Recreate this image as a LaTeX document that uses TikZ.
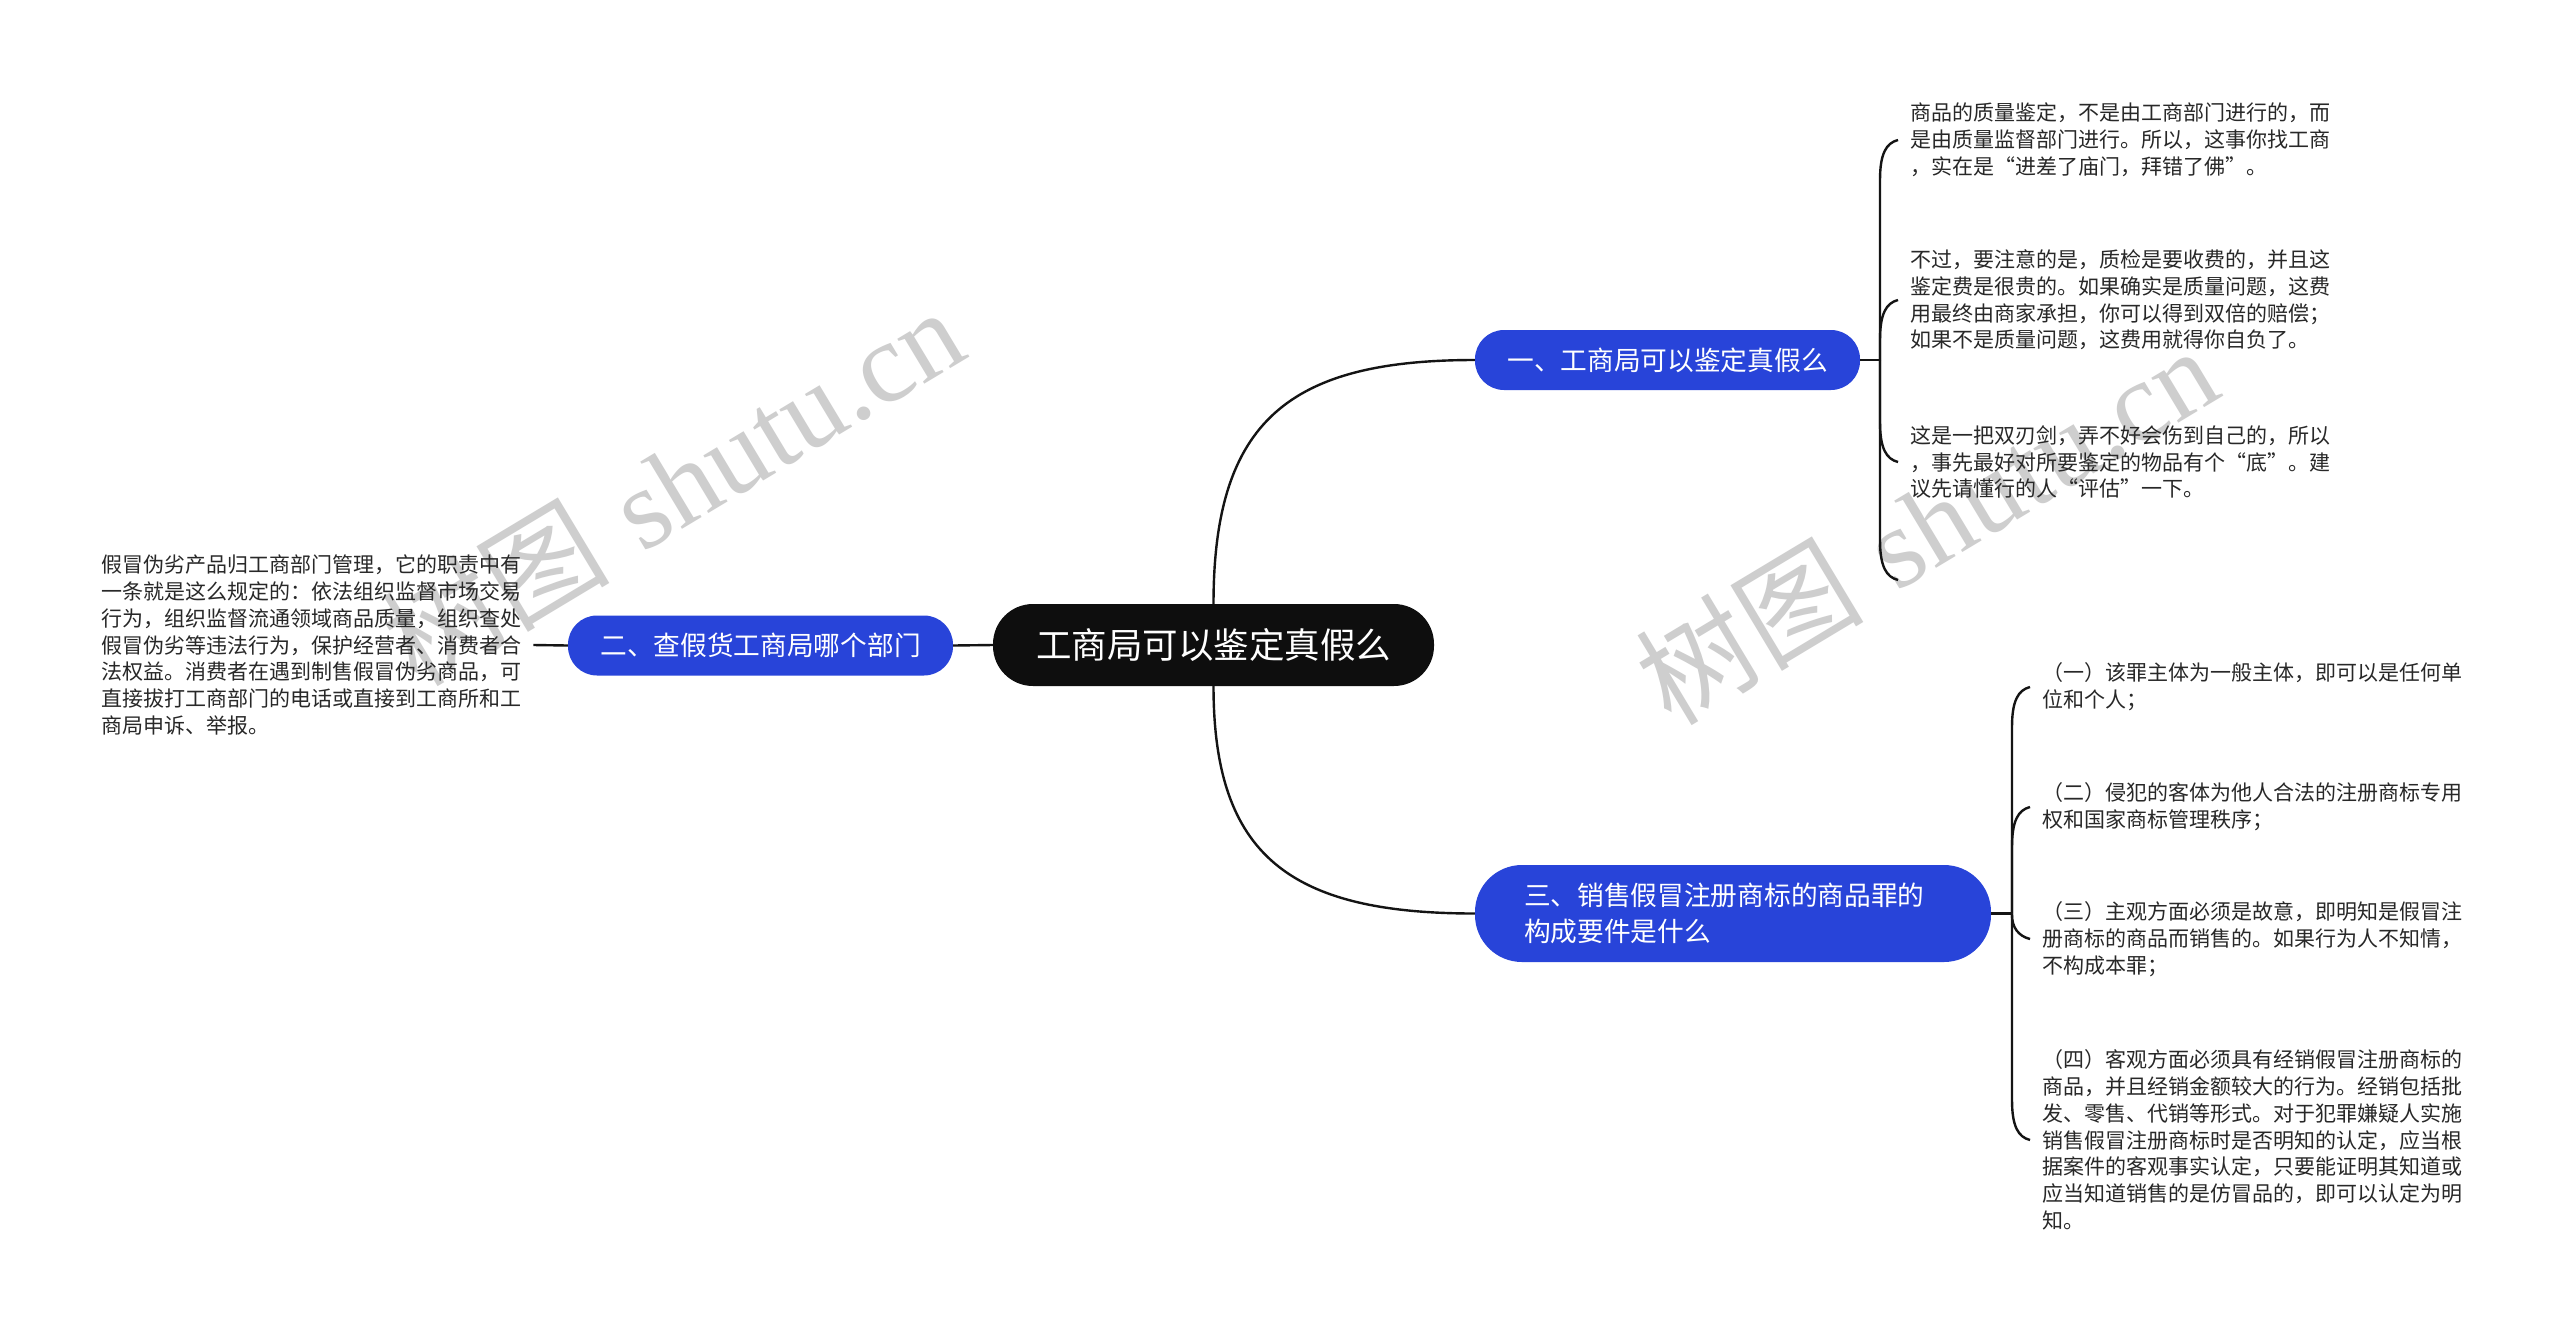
\documentclass[tikz,border=0pt]{standalone}
\usepackage{fontspec}
\newfontfamily\cjk{Noto Sans CJK SC}
\newfontfamily\wmlat{Liberation Serif}
\definecolor{brblue}{RGB}{40,68,217}
\definecolor{rootblack}{RGB}{14,14,14}
\definecolor{leaftext}{RGB}{40,40,40}
\definecolor{wmgray}{RGB}{206,206,206}
\definecolor{linecol}{RGB}{20,20,20}
\tikzset{
  rootnode/.style={fill=rootblack, text=white, rounded corners=40pt, minimum width=441pt, minimum height=82pt, inner sep=0pt, font=\cjk\fontsize{35.5}{40}\selectfont},
  branchnode/.style={fill=brblue, text=white, rounded corners=29pt, minimum width=385pt, minimum height=60pt, inner sep=0pt, font=\cjk\fontsize{26.7}{36}\selectfont},
  leafnode/.style={anchor=west, align=left, text=leaftext, inner xsep=12pt, inner ysep=0pt, font=\cjk\fontsize{21}{26.8}\selectfont},
  conn/.style={draw=linecol, line width=2.4pt},
  wmark/.style={text=wmgray, rotate=31, inner sep=0pt, font=\fontsize{114}{120}\selectfont}
}
\begin{document}
\begin{tikzpicture}[x=1pt,y=-1pt]
\useasboundingbox[fill=white] (0,0) rectangle (2560,1334);

% watermarks
\node[wmark] (wm1) at (672,485) {{\cjk 树图} {\wmlat shutu.cn}};
\node[wmark] (wm2) at (1926,524) {{\cjk 树图} {\wmlat shutu.cn}};

% root and branches
\node[rootnode] (root) at (1213.5,645) {工商局可以鉴定真假么};
\node[branchnode] (b1) at (1667.5,360) {一、工商局可以鉴定真假么};
\node[branchnode] (b2) at (760.5,645.5) {二、查假货工商局哪个部门};
\node[branchnode, minimum width=0pt, minimum height=97pt, rounded corners=47pt, text width=418pt, align=left, inner xsep=49pt] (b3) at (1733,913.5) {三、销售假冒注册商标的商品罪的\\构成要件是什么};

% leaves of branch 1
\node[leafnode] (l1) at (1898,140) {商品的质量鉴定，不是由工商部门进行的，而\\是由质量监督部门进行。所以，这事你找工商\\，实在是“进差了庙门，拜错了佛”。};
\node[leafnode] (l2) at (1898,300) {不过，要注意的是，质检是要收费的，并且这\\鉴定费是很贵的。如果确实是质量问题，这费\\用最终由商家承担，你可以得到双倍的赔偿；\\如果不是质量问题，这费用就得你自负了。};
\node[leafnode] (l3) at (1898,462) {这是一把双刃剑，弄不好会伤到自己的，所以\\，事先最好对所要鉴定的物品有个“底”。建\\议先请懂行的人“评估”一下。};
\coordinate (l4end) at (1898,580);

% leaf of branch 2
\node[leafnode] (m1) at (89,645) {假冒伪劣产品归工商部门管理，它的职责中有\\一条就是这么规定的：依法组织监督市场交易\\行为，组织监督流通领域商品质量，组织查处\\假冒伪劣等违法行为，保护经营者、消费者合\\法权益。消费者在遇到制售假冒伪劣商品，可\\直接拔打工商部门的电话或直接到工商所和工\\商局申诉、举报。};

% leaves of branch 3
\node[leafnode] (n1) at (2030,687) {（一）该罪主体为一般主体，即可以是任何单\\位和个人；};
\node[leafnode] (n2) at (2030,807) {（二）侵犯的客体为他人合法的注册商标专用\\权和国家商标管理秩序；};
\node[leafnode] (n3) at (2030,939) {（三）主观方面必须是故意，即明知是假冒注\\册商标的商品而销售的。如果行为人不知情，\\不构成本罪；};
\node[leafnode] (n4) at (2030,1140) {（四）客观方面必须具有经销假冒注册商标的\\商品，并且经销金额较大的行为。经销包括批\\发、零售、代销等形式。对于犯罪嫌疑人实施\\销售假冒注册商标时是否明知的认定，应当根\\据案件的客观事实认定，只要能证明其知道或\\应当知道销售的是仿冒品的，即可以认定为明\\知。};

% root connectors
\draw[conn] (root.north) .. controls (1213.5,420) and (1290,360) .. (b1.west);
\draw[conn] (root.south) .. controls (1213.5,856) and (1290,913.5) .. (b3.west);
\draw[conn] (root.west) -- (b2.east);

% branch 2 connector
\draw[conn] (b2.west) -- (m1.east);

% branch 1 brace
\coordinate (k1) at (1880,360);
\draw[conn] (b1.east) -- (k1);
\draw[conn] (k1) -- (1880,180) .. controls (1880,154) and (1886,143) .. (l1.west);
\draw[conn] (k1) -- (1880,340) .. controls (1880,314) and (1886,303) .. (l2.west);
\draw[conn] (k1) -- (1880,422) .. controls (1880,448) and (1886,459) .. (l3.west);
\draw[conn] (k1) -- (1880,540) .. controls (1880,566) and (1886,577) .. (l4end);

% branch 3 brace
\coordinate (k3) at (2012,913.5);
\draw[conn] (b3.east) -- (k3);
\draw[conn] (k3) -- (2012,727) .. controls (2012,701) and (2018,690) .. (n1.west);
\draw[conn] (k3) -- (2012,847) .. controls (2012,821) and (2018,810) .. (n2.west);
\draw[conn] (k3) -- (2012,915) .. controls (2012,927) and (2018,936) .. (n3.west);
\draw[conn] (k3) -- (2012,1100) .. controls (2012,1126) and (2018,1137) .. (n4.west);
\end{tikzpicture}
\end{document}
